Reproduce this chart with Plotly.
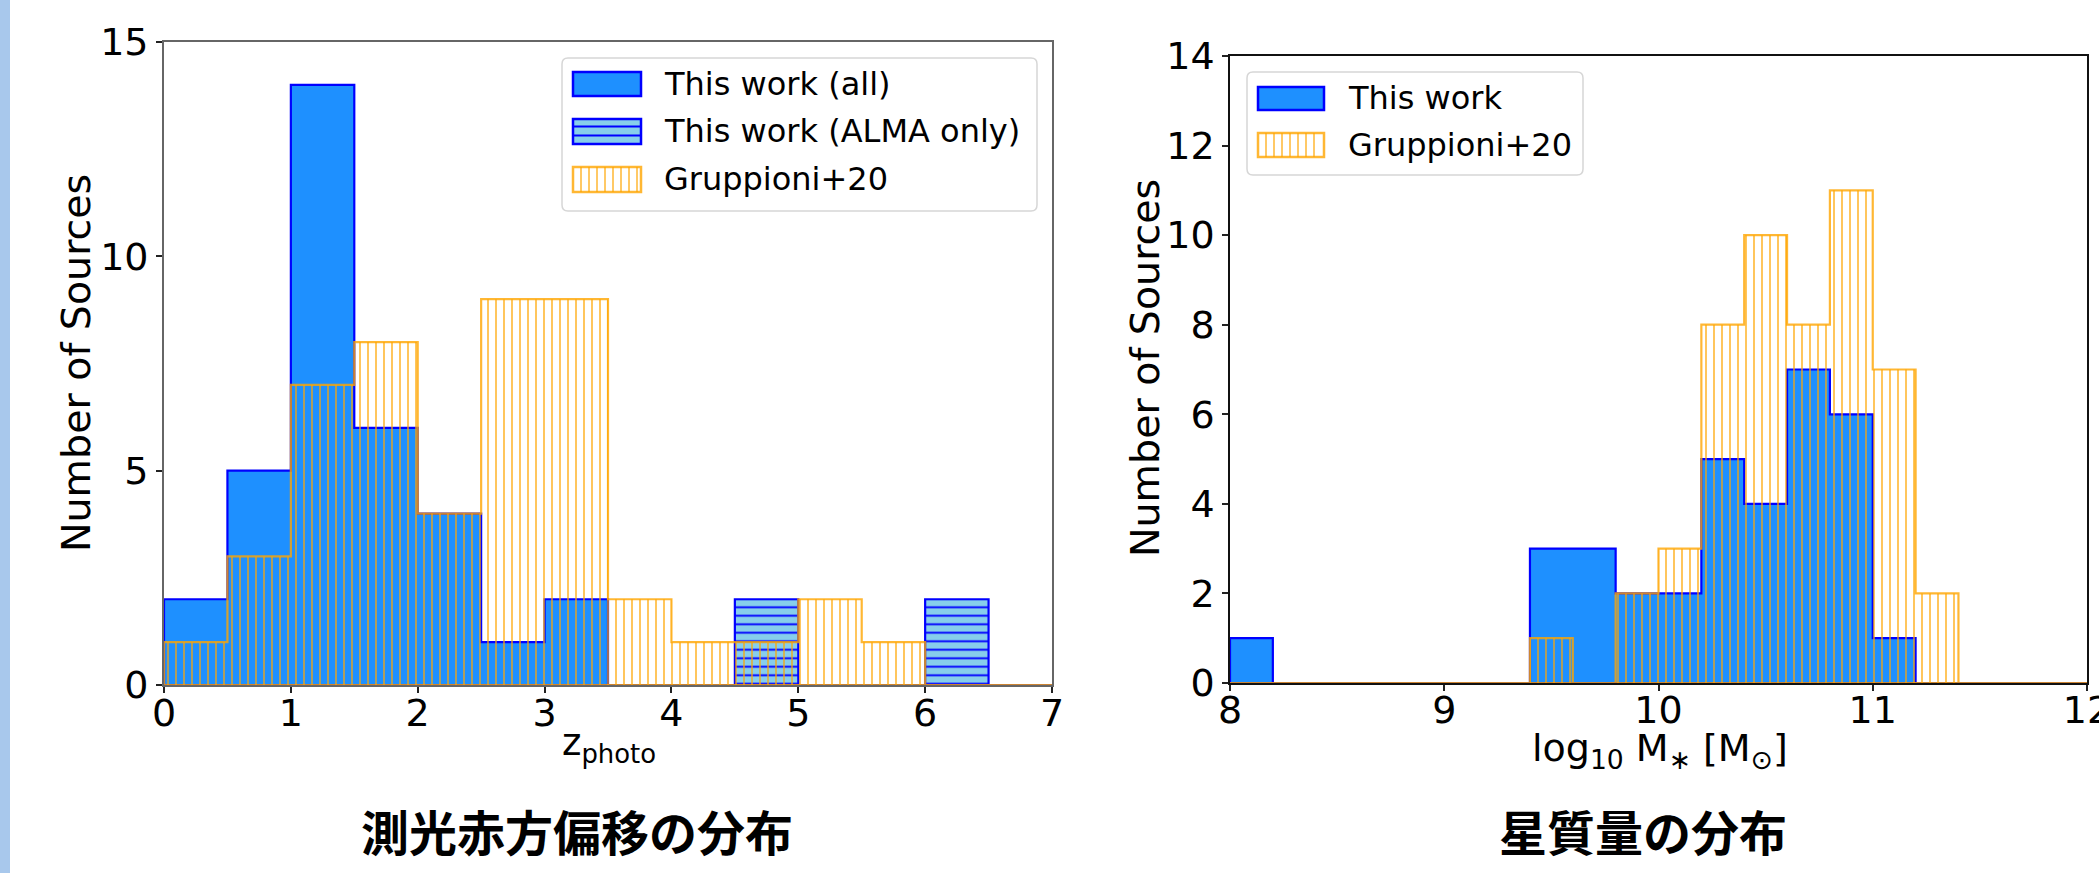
import plotly.graph_objects as go

W, H = 2099, 873

# Photometric redshift histogram (bin width 0.5)
z_edges = [0.0, 0.5, 1.0, 1.5, 2.0, 2.5, 3.0, 3.5, 4.0, 4.5, 5.0, 5.5, 6.0, 6.5, 7.0]
z_all = [2, 5, 14, 6, 4, 1, 2, 0, 0, 0, 0, 0, 0, 0]
z_alma = [0, 0, 0, 0, 0, 0, 0, 0, 0, 2, 0, 0, 2, 0]
z_gruppioni = [1, 3, 7, 8, 4, 9, 9, 2, 1, 1, 2, 1, 0, 0]

# Stellar mass histogram (bin width 0.2 dex)
m_edges = [8.0, 8.2, 8.4, 8.6, 8.8, 9.0, 9.2, 9.4, 9.6, 9.8, 10.0,
           10.2, 10.4, 10.6, 10.8, 11.0, 11.2, 11.4, 11.6, 11.8, 12.0]
m_this = [1, 0, 0, 0, 0, 0, 0, 3, 3, 2, 2, 5, 4, 7, 6, 1, 0, 0, 0, 0]
m_gruppioni = [0, 0, 0, 0, 0, 0, 0, 1, 0, 2, 3, 8, 10, 8, 11, 7, 2, 0, 0, 0]

z_ticks = [0, 1, 2, 3, 4, 5, 6, 7]
z_count_ticks = [0, 5, 10, 15]
m_ticks = [8, 9, 10, 11, 12]
m_count_ticks = [0, 2, 4, 6, 8, 10, 12, 14]

BLUE_FILL = "#1e90ff"
BLUE_EDGE = "#0000ff"
SKY = "#87ceeb"
ORANGE = "rgba(255,165,0,0.8)"
TEXT_FONT = "DejaVu Sans"


def step_outline(edges, counts):
    """Closed step polygon of a histogram (stepfilled style)."""
    xs, ys = [edges[0]], [0]
    for i, c in enumerate(counts):
        xs.append(edges[i])
        ys.append(c)
    xs += [edges[-1], edges[-1], edges[0]]
    ys += [counts[-1], 0, 0]
    return xs, ys


def hist_trace(edges, counts, name, xa, ya, edge, fill=None, pattern=None, width=2.2):
    xs, ys = step_outline(edges, counts)
    kw = dict(
        x=xs, y=ys, name=name, mode="lines", xaxis=xa, yaxis=ya,
        line=dict(shape="hv", color=edge, width=width),
        fill="toself", showlegend=False, hoverinfo="skip",
        fillcolor=fill if fill else "rgba(0,0,0,0)",
    )
    if pattern:
        kw["fillpattern"] = pattern
    return go.Scatter(**kw)


orange_hatch = dict(shape="|", fgcolor=ORANGE, bgcolor="rgba(0,0,0,0)",
                    fillmode="replace", size=8, solidity=0.2)
alma_hatch = dict(shape="-", fgcolor=BLUE_EDGE, bgcolor=SKY,
                  fillmode="replace", size=8.5, solidity=0.22)

fig = go.Figure()

# Left panel: redshift
fig.add_trace(hist_trace(z_edges, z_all, "This work (all)", "x", "y", BLUE_EDGE, BLUE_FILL))
fig.add_trace(hist_trace(z_edges, z_alma, "This work (ALMA only)", "x", "y", BLUE_EDGE, SKY, alma_hatch))
fig.add_trace(hist_trace(z_edges, z_gruppioni, "Gruppioni+20", "x", "y", ORANGE, None, orange_hatch))

# Right panel: stellar mass
fig.add_trace(hist_trace(m_edges, m_this, "This work", "x2", "y2", BLUE_EDGE, BLUE_FILL))
fig.add_trace(hist_trace(m_edges, m_gruppioni, "Gruppioni+20", "x2", "y2", ORANGE, None, orange_hatch))


def X(px):
    return px / W


def Y(py):
    return 1 - py / H


axis_common = dict(
    showgrid=False, zeroline=False, showline=True, mirror=True,
    ticks="outside", ticklen=6, tickwidth=1.5, tickcolor="#222",
    tickfont=dict(family=TEXT_FONT, size=38, color="black"),
    automargin=False, ticklabeloverflow="allow",
)

fig.update_layout(
    width=W, height=H,
    margin=dict(l=0, r=0, t=0, b=0),
    paper_bgcolor="white", plot_bgcolor="white",
    showlegend=False,
    xaxis=dict(domain=[X(164), X(1052)], range=[0, 7], tickvals=z_ticks,
               anchor="y", linecolor="#666", linewidth=1.8,
               ticklabelstandoff=-13, **axis_common),
    yaxis=dict(domain=[Y(685), Y(42)], range=[0, 15], tickvals=z_count_ticks,
               anchor="x", linecolor="#666", linewidth=1.8, **axis_common),
    xaxis2=dict(domain=[X(1230), X(2087)], range=[8, 12], tickvals=m_ticks,
                anchor="y2", linecolor="#111", linewidth=1.5,
                ticklabelstandoff=-13, **axis_common),
    yaxis2=dict(domain=[Y(683), Y(56)], range=[0, 14], tickvals=m_count_ticks,
                anchor="x2", linecolor="#111", linewidth=1.5, **axis_common),
)

shapes = []
annotations = []

# Accent strip on the left edge of the page
shapes.append(dict(type="rect", xref="paper", yref="paper", x0=0, x1=X(10),
                   y0=0, y1=1, fillcolor="#a8c8ec", line=dict(width=0), layer="above"))


def rounded_box(x0, y0, x1, y1, r=6):
    p = (f"M {X(x0 + r)},{Y(y0)} L {X(x1 - r)},{Y(y0)} "
         f"Q {X(x1)},{Y(y0)} {X(x1)},{Y(y0 + r)} L {X(x1)},{Y(y1 - r)} "
         f"Q {X(x1)},{Y(y1)} {X(x1 - r)},{Y(y1)} L {X(x0 + r)},{Y(y1)} "
         f"Q {X(x0)},{Y(y1)} {X(x0)},{Y(y1 - r)} L {X(x0)},{Y(y0 + r)} "
         f"Q {X(x0)},{Y(y0)} {X(x0 + r)},{Y(y0)} Z")
    shapes.append(dict(type="path", xref="paper", yref="paper", path=p,
                       fillcolor="rgba(255,255,255,0.85)",
                       line=dict(color="#d6d6d6", width=1.5), layer="above"))


def handle(x0, y0, x1, y1, kind):
    if kind == "solid":
        fill, edge = BLUE_FILL, BLUE_EDGE
    elif kind == "alma":
        fill, edge = SKY, BLUE_EDGE
    else:
        fill, edge = "white", ORANGE
    shapes.append(dict(type="rect", xref="paper", yref="paper",
                       x0=X(x0), x1=X(x1), y0=Y(y1), y1=Y(y0),
                       fillcolor=fill, line=dict(color=edge, width=2.5), layer="above"))
    if kind == "alma":
        for yy in (y0 + 7.5, y0 + 16.5):
            shapes.append(dict(type="line", xref="paper", yref="paper",
                               x0=X(x0), x1=X(x1), y0=Y(yy), y1=Y(yy),
                               line=dict(color=BLUE_EDGE, width=1.8), layer="above"))
    elif kind == "hatch":
        xx = x0 + 8
        while xx < x1 - 2:
            shapes.append(dict(type="line", xref="paper", yref="paper",
                               x0=X(xx), x1=X(xx), y0=Y(y0), y1=Y(y1),
                               line=dict(color=ORANGE, width=1.5), layer="above"))
            xx += 8


def label(x, y, text, size=32):
    annotations.append(dict(xref="paper", yref="paper", x=X(x), y=Y(y), text=text,
                            showarrow=False, xanchor="left", yanchor="middle",
                            font=dict(family=TEXT_FONT, size=size, color="black")))


# Left legend
rounded_box(562, 58, 1037, 211)
left_items = [("This work (all)", "solid", 72, 96, 84),
              ("This work (ALMA only)", "alma", 119, 144, 131),
              ("Gruppioni+20", "hatch", 167, 192, 179)]
for text, kind, y0, y1, yc in left_items:
    handle(573, y0, 641, y1, kind)
    label(662, yc, text)

# Right legend
rounded_box(1247, 72, 1583, 175)
right_items = [("This work", "solid", 87, 110, 98),
               ("Gruppioni+20", "hatch", 133, 157, 145)]
for text, kind, y0, y1, yc in right_items:
    handle(1258, y0, 1324, y1, kind)
    label(1346, yc, text)


# Axis titles
def title(x, y, text, angle=0, size=36):
    annotations.append(dict(xref="paper", yref="paper", x=X(x), y=Y(y), text=text,
                            showarrow=False, xanchor="center", yanchor="middle",
                            textangle=angle,
                            font=dict(family=TEXT_FONT, size=size, color="black")))


title(76, 363, "Number of Sources", angle=-90, size=39.5)
title(1145, 368, "Number of Sources", angle=-90, size=39.5)
title(609, 745, "z<sub>photo</sub>", size=37)
title(1660, 750, "log<sub>10</sub> M<sub>∗</sub> [M<sub>⊙</sub>]", size=38)

# Panel captions
for x, text in [(577, "測光赤方偏移の分布"), (1643, "星質量の分布")]:
    annotations.append(dict(xref="paper", yref="paper", x=X(x), y=Y(830), text=text,
                            showarrow=False, xanchor="center", yanchor="middle",
                            font=dict(family="Noto Sans CJK JP", size=48,
                                      color="black", weight="bold")))

fig.update_layout(shapes=shapes, annotations=annotations)
fig.write_html("out.html")
